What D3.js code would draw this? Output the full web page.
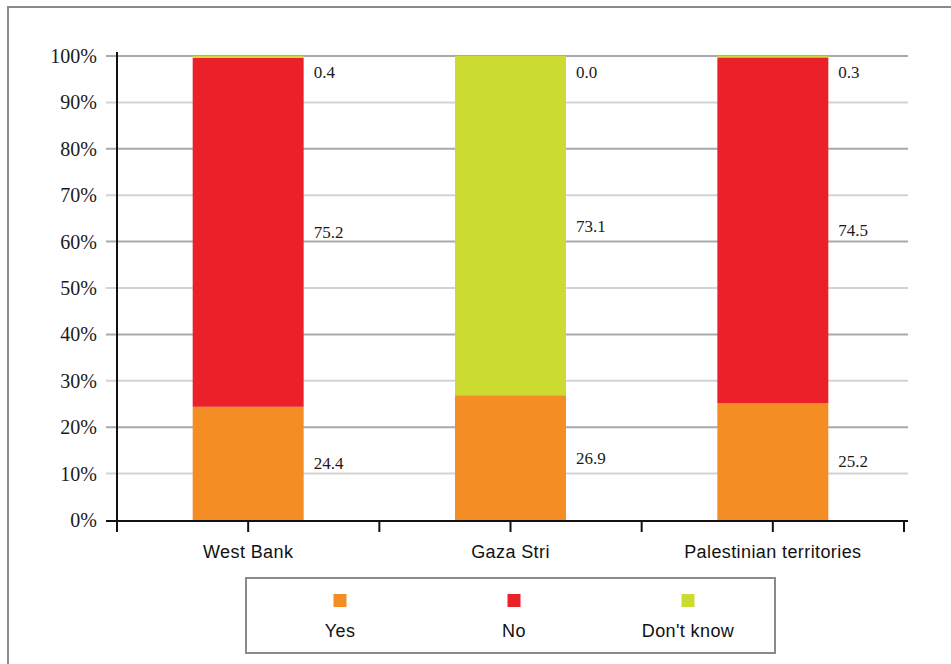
<!DOCTYPE html>
<html>
<head>
<meta charset="utf-8">
<script src="https://cdn.jsdelivr.net/npm/d3@7"></script>
<style>
  html, body { margin: 0; padding: 0; background: #fff; }
  svg { display: block; }
</style>
</head>
<body>
<svg id="chart" width="951" height="664"></svg>
<script>
// ---- data ----
const categories = ["West Bank", "Gaza Stri", "Palestinian territories"];
const seriesNames = ["Yes", "No", "Don't know"];
const yesValues = [24.4, 26.9, 25.2];
const noValues = [75.2, 0.0, 74.5];
const dontKnowValues = [0.4, 73.1, 0.3];
const yTickValues = [0, 10, 20, 30, 40, 50, 60, 70, 80, 90, 100];
const seriesColors = ["#f38d24", "#ea2128", "#cbdb32"];

const seriesValues = [yesValues, noValues, dontKnowValues];

const svg = d3.select("#chart");

// outer frame
svg.append("path")
  .attr("d", "M8,664 L8,7 L951,7")
  .attr("fill", "none").attr("stroke", "#8a8a8a").attr("stroke-width", 2);

const plot = { left: 117, right: 904, top: 56, bottom: 520 };

const x = d3.scaleBand()
  .domain(categories)
  .range([plot.left, plot.right])
  .paddingInner(0.577)
  .paddingOuter(0.2885);

const y = d3.scaleLinear().domain([0, 100]).range([plot.bottom, plot.top]);

// gridlines
svg.append("g").selectAll("line")
  .data(yTickValues.filter(v => v > 0))
  .join("line")
  .attr("x1", 106).attr("x2", 908)
  .attr("y1", d => y(d)).attr("y2", d => y(d))
  .attr("stroke", d => (d % 20 === 0) ? "#a9a9ad" : "#d3d3d6")
  .attr("stroke-width", 2);

// y axis labels
const yAxis = d3.axisLeft(y).tickValues(yTickValues).tickFormat(d => d + "%").tickSize(0).tickPadding(20);
const yg = svg.append("g").attr("transform", `translate(${plot.left},0)`).call(yAxis);
yg.select(".domain").remove();
yg.selectAll("text")
  .attr("font-family", "'Liberation Serif', 'Times New Roman', serif")
  .attr("font-size", 20).attr("fill", "#1a1a1a").attr("dy", "0.32em");

// stacked segments (non-zero values stacked first, zero values end on top)
const segments = [];
categories.forEach((cat, i) => {
  const order = seriesNames.map((s, k) => k)
    .sort((a, b) => ((seriesValues[a][i] === 0) - (seriesValues[b][i] === 0)) || (a - b));
  let acc = 0;
  order.forEach(k => {
    const v = seriesValues[k][i];
    segments.push({ cat, k, v, y0: acc, y1: acc + v });
    acc += v;
  });
});

svg.append("g").selectAll("rect")
  .data(segments.filter(d => d.v > 0))
  .join("rect")
  .attr("x", d => x(d.cat))
  .attr("width", x.bandwidth())
  .attr("y", d => y(d.y1))
  .attr("height", d => y(d.y0) - y(d.y1))
  .attr("fill", d => seriesColors[d.k]);

// value labels
svg.append("g").selectAll("text")
  .data(segments)
  .join("text")
  .attr("x", d => x(d.cat) + x.bandwidth() + 10)
  .attr("y", d => y(Math.min((d.y0 + d.y1) / 2, 96.5)))
  .attr("dy", "0.35em")
  .attr("font-family", "'Liberation Serif', 'Times New Roman', serif")
  .attr("font-size", 17).attr("fill", "#1a1a1a")
  .text(d => d.v.toFixed(1));

// y axis line
svg.append("line")
  .attr("x1", plot.left).attr("x2", plot.left)
  .attr("y1", 52).attr("y2", 532)
  .attr("stroke", "#111").attr("stroke-width", 2);

// x axis line and ticks
svg.append("line")
  .attr("x1", 106).attr("x2", 908)
  .attr("y1", plot.bottom + 1).attr("y2", plot.bottom + 1)
  .attr("stroke", "#111").attr("stroke-width", 2);

const tickPositions = d3.range(categories.length * 2 + 1).map(i => plot.left + i * x.step() / 2);
svg.append("g").selectAll("line")
  .data(tickPositions)
  .join("line")
  .attr("x1", d => d).attr("x2", d => d)
  .attr("y1", plot.bottom + 1).attr("y2", plot.bottom + 12)
  .attr("stroke", "#111").attr("stroke-width", 2);

// category labels
const xAxis = d3.axisBottom(x).tickSize(0).tickPadding(0);
const xg = svg.append("g").attr("transform", `translate(0,${plot.bottom})`).call(xAxis);
xg.select(".domain").remove();
xg.selectAll("text")
  .attr("y", 38).attr("dy", 0)
  .attr("font-family", "'Liberation Sans', Arial, sans-serif")
  .attr("font-size", 18).attr("letter-spacing", "0.4px").attr("fill", "#111");

// legend
const legend = svg.append("g");
legend.append("rect")
  .attr("x", 246).attr("y", 578).attr("width", 529).attr("height", 75)
  .attr("fill", "#fff").attr("stroke", "#8a8a8a").attr("stroke-width", 2);

const legendX = d3.scalePoint().domain(seriesNames).range([340, 688]);
const li = legend.selectAll("g.item").data(seriesNames).join("g").attr("class", "item")
  .attr("transform", d => `translate(${legendX(d)},0)`);
li.append("rect")
  .attr("x", -6.5).attr("y", 594).attr("width", 13).attr("height", 13)
  .attr("fill", (d, i) => seriesColors[i]);
li.append("text")
  .attr("y", 637).attr("text-anchor", "middle")
  .attr("font-family", "'Liberation Sans', Arial, sans-serif")
  .attr("font-size", 18).attr("letter-spacing", "0.4px").attr("fill", "#111")
  .text(d => d);
</script>
</body>
</html>
